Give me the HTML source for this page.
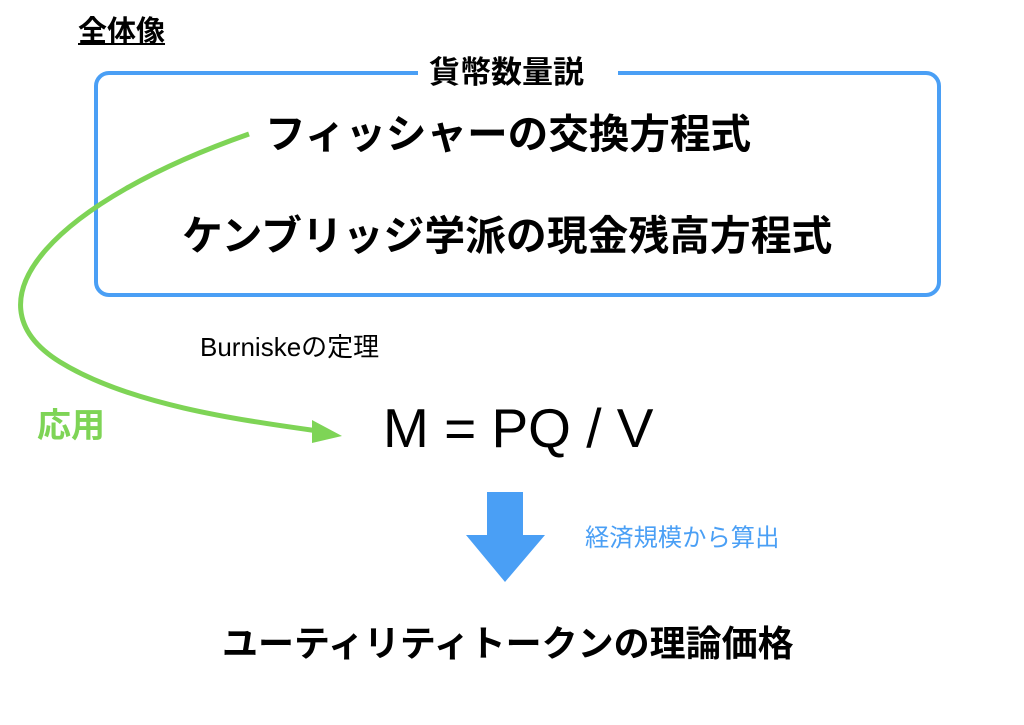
<!DOCTYPE html>
<html><head><meta charset="utf-8"><style>
body{margin:0;width:1024px;height:725px;background:#fff;position:relative;overflow:hidden;font-family:"Liberation Sans","Noto Sans CJK JP",sans-serif;}
.t{position:absolute;white-space:nowrap;font-weight:bold;line-height:1;}
</style></head><body>
<svg width="1024" height="725" style="position:absolute;left:0;top:0">
<rect x="96" y="73" width="843" height="222" rx="13" fill="none" stroke="#4a9ff5" stroke-width="4"/>
<rect x="418" y="60" width="200" height="30" fill="#fff"/>
<path d="M249,134 C60,200 -40,300 60,362 C130,405 240,420 318,431" fill="none" stroke="#7ed456" stroke-width="5"/>
<polygon points="342,436 312,420 312,443" fill="#7ed456"/>
<polygon points="487,492 523,492 523,535 545,535 505,582 466,535 487,535" fill="#4a9ff5"/>
</svg>
<div class="t" style="left:78px;top:18px;font-size:29px;text-decoration:underline;">全体像</div>
<div class="t" style="left:429px;top:57px;font-size:31px;">貨幣数量説</div>
<div class="t" style="left:265px;top:114px;font-size:40.6px;">フィッシャーの交換方程式</div>
<div class="t" style="left:182px;top:216px;font-size:40.8px;">ケンブリッジ学派の現金残高方程式</div>
<div class="t" style="left:200px;top:334px;font-size:26px;font-weight:normal;">Burniskeの定理</div>
<div class="t" style="left:383px;top:401px;font-size:55px;font-weight:normal;">M = PQ / V</div>
<div class="t" style="left:37px;top:409px;font-size:34px;color:#7ed456;">応用</div>
<div class="t" style="left:585px;top:527px;font-size:24.3px;font-weight:normal;color:#4a9ff5;">経済規模から算出</div>
<div class="t" style="left:222px;top:626px;font-size:36px;">ユーティリティトークンの理論価格</div>
</body></html>
